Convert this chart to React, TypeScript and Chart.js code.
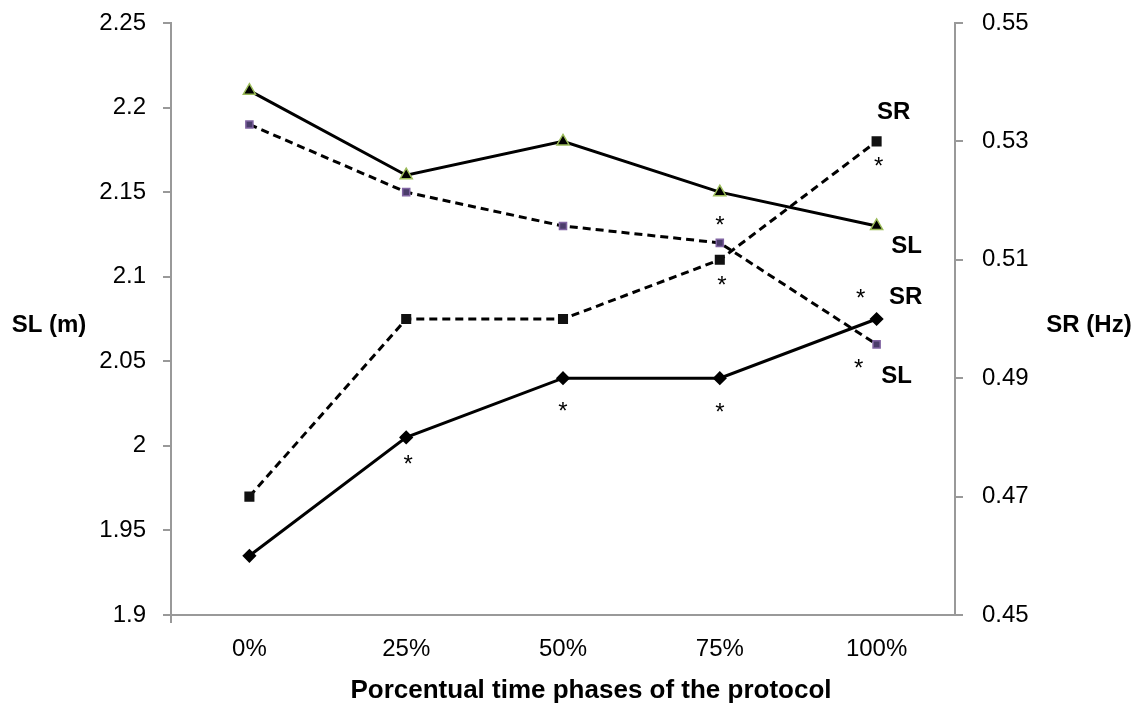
import React, { useEffect, useRef } from "react";
import { Chart, registerables } from "chart.js";

Chart.register(...registerables);

const categories = ["0%", "25%", "50%", "75%", "100%"];
const slSolid = [2.21, 2.16, 2.18, 2.15, 2.13];
const slDashed = [2.19, 2.15, 2.13, 2.12, 2.06];
const srDashed = [0.47, 0.5, 0.5, 0.51, 0.53];
const srSolid = [0.46, 0.48, 0.49, 0.49, 0.5];

// significance asterisks: [datasetIndex, pointIndex, dx, dy]
const asterisks: [number, number, number, number][] = [
  [3, 1, 2, 23],
  [3, 2, 0, 29],
  [3, 3, 0, 30],
  [1, 3, 0, -22],
  [2, 3, 2, 22],
  [2, 4, 2, 21],
  [3, 4, -16, -25],
  [1, 4, -18, 20],
];
// end labels: [text, datasetIndex, pointIndex, dx, dy]
const endLabels: [string, number, number, number, number][] = [
  ["SR", 2, 4, 17, -29],
  ["SL", 0, 4, 30, 20],
  ["SR", 3, 4, 29, -22],
  ["SL", 1, 4, 20, 32],
];

const FONT = "'Liberation Sans', Arial, sans-serif";

export default function App() {
  const ref = useRef<HTMLCanvasElement | null>(null);
  useEffect(() => {
    document.body.style.margin = "0";
    const ctx = ref.current!.getContext("2d")!;
    const textPlugin = {
      id: "texts",
      afterDatasetsDraw(chart: any) {
        const c = chart.ctx;
        c.save();
        c.fillStyle = "#000";
        c.textAlign = "center";
        c.textBaseline = "middle";
        c.font = `24px ${FONT}`;
        asterisks.forEach(([d, i, dx, dy]) => {
          const el = chart.getDatasetMeta(d).data[i];
          c.fillText("*", el.x + dx, el.y + dy + 5);
        });
        c.font = `bold 24px ${FONT}`;
        endLabels.forEach(([t, d, i, dx, dy]) => {
          const el = chart.getDatasetMeta(d).data[i];
          c.fillText(t, el.x + dx, el.y + dy);
        });
        const ca = chart.chartArea;
        const midY = 325;
        c.font = `bold 24px ${FONT}`;
        c.fillText("SL (m)", 49, midY);
        c.fillText("SR (Hz)", 1089, midY);
        c.font = `bold 26px ${FONT}`;
        c.fillText("Porcentual time phases of the protocol", (ca.left + ca.right) / 2 + 28, 691);
        // left axis small extension below x axis, x axis extension past right axis
        c.strokeStyle = "#999";
        c.lineWidth = 2;
        c.beginPath();
        c.moveTo(ca.left, ca.bottom);
        c.lineTo(ca.left, ca.bottom + 8);
        c.moveTo(ca.right, ca.bottom);
        c.lineTo(ca.right + 8, ca.bottom);
        c.stroke();
        c.restore();
      },
    };
    const chart = new Chart(ctx, {
      type: "line",
      data: {
        labels: categories,
        datasets: [
          {
            data: slSolid,
            yAxisID: "y",
            borderColor: "#000",
            borderWidth: 3,
            pointStyle: "triangle",
            pointRadius: 7,
            pointBackgroundColor: "#000",
            pointBorderColor: "#9BBB59",
            pointBorderWidth: 1.5,
          },
          {
            data: slDashed,
            yAxisID: "y",
            borderColor: "#000",
            borderWidth: 3,
            borderDash: [8, 5],
            pointStyle: "rect",
            pointRadius: 5,
            pointBackgroundColor: "#4b3d6b",
            pointBorderColor: "#8064A2",
            pointBorderWidth: 1.5,
          },
          {
            data: srDashed,
            yAxisID: "y1",
            borderColor: "#000",
            borderWidth: 3,
            borderDash: [8, 5],
            pointStyle: "rect",
            pointRadius: 5,
            pointBackgroundColor: "#111",
            pointBorderColor: "#111",
          },
          {
            data: srSolid,
            yAxisID: "y1",
            borderColor: "#000",
            borderWidth: 3,
            pointStyle: "rectRot",
            pointRadius: 5,
            pointBackgroundColor: "#000",
            pointBorderColor: "#000",
          },
        ],
      },
      options: {
        responsive: false,
        animation: false,
        layout: { padding: { top: 23, left: 0, right: 0, bottom: 0 } },
        plugins: { legend: { display: false }, tooltip: { enabled: false } },
        scales: {
          x: {
            offset: true,
            grid: { display: false },
            border: { display: true, color: "#999", width: 2 },
            ticks: { color: "#000", font: { size: 24, family: FONT }, padding: 12 },
            afterFit(s: any) {
              s.height = 96;
              s.paddingLeft = 0;
              s.paddingRight = 0;
            },
          },
          y: {
            position: "left",
            min: 1.9,
            max: 2.25,
            grid: { drawOnChartArea: false, drawTicks: true, tickLength: 8, color: "#999", lineWidth: 2 },
            border: { display: true, color: "#999", width: 2 },
            ticks: {
              stepSize: 0.05,
              color: "#000",
              font: { size: 24, family: FONT },
              padding: 17,
              callback: (v: any) => String(parseFloat(Number(v).toFixed(2))),
            },
            afterFit(s: any) {
              s.width = 171;
              s.paddingTop = 0;
              s.paddingBottom = 0;
            },
          },
          y1: {
            position: "right",
            min: 0.45,
            max: 0.55,
            grid: { drawOnChartArea: false, drawTicks: true, tickLength: 8, color: "#999", lineWidth: 2 },
            border: { display: true, color: "#999", width: 2 },
            ticks: {
              stepSize: 0.02,
              color: "#000",
              font: { size: 24, family: FONT },
              padding: 19,
              callback: (v: any) => Number(v).toFixed(2),
            },
            afterFit(s: any) {
              s.width = 186;
              s.paddingTop = 0;
              s.paddingBottom = 0;
            },
          },
        },
      },
      plugins: [textPlugin],
    });
    return () => chart.destroy();
  }, []);
  return (
    <div style={{ width: 1141, height: 711 }}>
      <canvas ref={ref} width={1141} height={711} />
    </div>
  );
}
